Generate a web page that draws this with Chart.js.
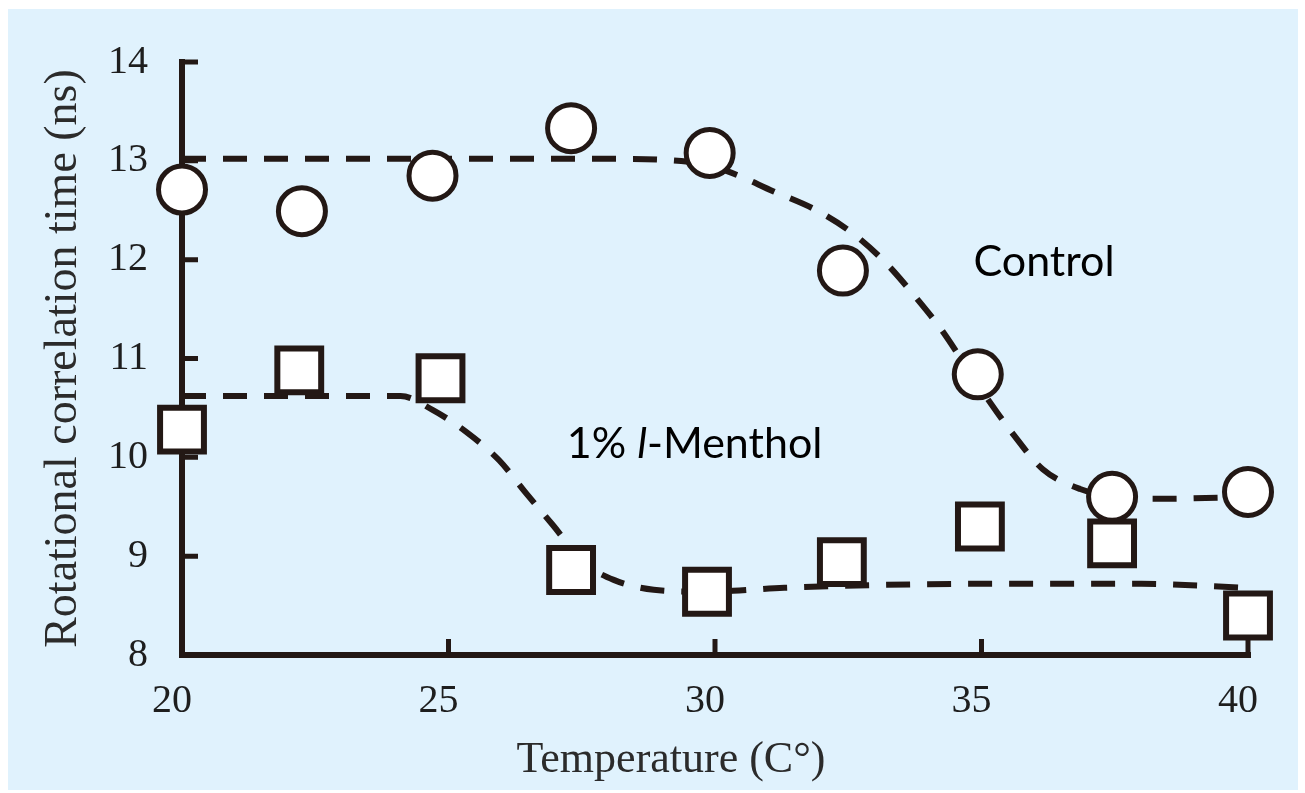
<!DOCTYPE html>
<html>
<head>
<meta charset="utf-8">
<script src="https://cdn.jsdelivr.net/npm/chart.js@4"></script>
<style>
  html, body { margin: 0; padding: 0; background: #ffffff; }
  #wrap { width: 1305px; height: 793px; }
</style>
</head>
<body>
<div id="wrap"><canvas id="chart" width="1305" height="793"></canvas></div>
<script>
// measured points
const controlTemp = [20, 22.25, 24.7, 27.3, 29.9, 32.4, 34.93, 37.45, 40];
const controlTime = [12.71, 12.49, 12.85, 13.33, 13.08, 11.89, 10.84, 9.6, 9.65];
const mentholTemp = [20, 22.2, 24.85, 27.3, 29.85, 32.38, 34.97, 37.45, 40];
const mentholTime = [10.28, 10.88, 10.8, 8.86, 8.64, 8.94, 9.3, 9.13, 8.4];

// dashed fitted curves
const controlFitTemp = [20, 28, 29.5, 30.2, 31.1, 31.9, 32.6, 33.2, 33.75, 34.25, 34.95, 35.6, 36.15, 36.85, 37.5, 38.3, 40];
const controlFitTime = [13.02, 13.02, 12.99, 12.9, 12.69, 12.5, 12.26, 11.97, 11.63, 11.29, 10.72, 10.23, 9.88, 9.68, 9.6, 9.58, 9.6];
const mentholFitTemp = [20, 24.1, 24.7, 25.35, 25.95, 26.45, 26.95, 27.55, 28.1, 28.85, 29.85, 31.3, 35, 38, 40];
const mentholFitTime = [10.62, 10.62, 10.48, 10.25, 9.97, 9.64, 9.32, 8.93, 8.76, 8.66, 8.64, 8.68, 8.72, 8.72, 8.68];

const yTicks = [8, 9, 10, 11, 12, 13, 14];
const xTicks = [20, 25, 30, 35, 40];

const ink = "#231815";

function pts(xs, ys) {
	return xs.map((x, i) => ({ x: x, y: ys[i] }));
}

const decor = {
	id: "decor",
	beforeDraw(chart) {
		const ctx = chart.ctx;
		ctx.save();
		ctx.fillStyle = "#ffffff";
		ctx.fillRect(0, 0, chart.width, chart.height);
		ctx.fillStyle = "#e0f2fd";
		ctx.fillRect(8, 9, 1290, 781);
		ctx.restore();
	},
	beforeDatasetsDraw(chart) {
		const ctx = chart.ctx;
		const a = chart.chartArea;
		const sx = chart.scales.x, sy = chart.scales.y;
		ctx.save();
		ctx.strokeStyle = ink;
		ctx.lineCap = "butt";
		ctx.lineWidth = 6;
		ctx.beginPath();
		ctx.moveTo(a.left, a.top - 3);
		ctx.lineTo(a.left, a.bottom + 3);
		ctx.moveTo(a.left - 3, a.bottom);
		ctx.lineTo(a.right + 3, a.bottom);
		ctx.stroke();
		ctx.lineWidth = 5;
		ctx.beginPath();
		yTicks.slice(1).forEach(v => {
			const y = sy.getPixelForValue(v);
			ctx.moveTo(a.left, y);
			ctx.lineTo(a.left + 16, y);
		});
		xTicks.slice(1).forEach(v => {
			const x = sx.getPixelForValue(v);
			ctx.moveTo(x, a.bottom);
			ctx.lineTo(x, a.bottom - 16);
		});
		ctx.stroke();
		ctx.restore();
	},
	afterDraw(chart) {
		const ctx = chart.ctx;
		const sx = chart.scales.x, sy = chart.scales.y;
		ctx.save();
		ctx.fillStyle = "#000000";
		ctx.textBaseline = "alphabetic";
		ctx.textAlign = "left";
		ctx.font = "43px Lato";
		ctx.fillText("Control", sx.getPixelForValue(34.85), sy.getPixelForValue(11.83));
		let x = sx.getPixelForValue(27.22);
		const y = sy.getPixelForValue(9.99);
		ctx.fillText("1% ", x, y);
		x += ctx.measureText("1% ").width;
		ctx.font = "italic 43px Lato";
		ctx.fillText("l", x, y);
		x += ctx.measureText("l").width;
		ctx.font = "43px Lato";
		ctx.fillText("-Menthol", x, y);

		// x axis title
		ctx.fillStyle = "#2b2b2b";
		ctx.textAlign = "center";
		ctx.font = "44px 'Liberation Serif'";
		ctx.fillText("Temperature (C\u00b0)", 671, 772);
		ctx.restore();
	}
};

const ctx = document.getElementById("chart").getContext("2d");
const chart = new Chart(ctx, {
	type: "scatter",
	data: {
		datasets: [
			{
				label: "Control",
				data: pts(controlTemp, controlTime),
				pointStyle: "circle",
				pointRadius: 23.5,
				pointHoverRadius: 23.5,
				pointBorderWidth: 5,
				pointBackgroundColor: "#ffffff",
				pointBorderColor: ink,
				showLine: false,
				clip: false,
			},
			{
				label: "1% l-Menthol",
				data: pts(mentholTemp, mentholTime),
				pointStyle: "rect",
				pointRadius: 31,
				pointHoverRadius: 31,
				pointBorderWidth: 6,
				pointBackgroundColor: "#ffffff",
				pointBorderColor: ink,
				showLine: false,
				clip: false,
			},
			{
				label: "Control fit",
				data: pts(controlFitTemp, controlFitTime),
				showLine: true,
				borderColor: ink,
				borderWidth: 6,
				borderDash: [24, 17],
				cubicInterpolationMode: "monotone",
				pointRadius: 0,
				clip: false,
			},
			{
				label: "Menthol fit",
				data: pts(mentholFitTemp, mentholFitTime),
				showLine: true,
				borderColor: ink,
				borderWidth: 6,
				borderDash: [24, 17],
				cubicInterpolationMode: "monotone",
				pointRadius: 0,
				clip: false,
			},
		],
	},
	options: {
		responsive: false,
		animation: false,
		events: [],
		layout: { padding: { left: 0, top: 62, right: 57, bottom: 0 } },
		plugins: {
			legend: { display: false },
			tooltip: { enabled: false },
		},
		scales: {
			x: {
				type: "linear",
				min: 20,
				max: 40,
				afterFit(scale) { scale.height = 138; },
				afterBuildTicks(scale) { scale.ticks = xTicks.map(v => ({ value: v })); },
				grid: { display: false, drawTicks: false },
				border: { display: false },
				ticks: {
					padding: 22,
					labelOffset: -10,
					color: "#1e1e1e",
					font: { family: "'Liberation Serif'", size: 40 },
				},
				title: { display: false },
			},
			y: {
				type: "linear",
				min: 8,
				max: 14,
				afterFit(scale) { scale.width = 182; },
				afterBuildTicks(scale) { scale.ticks = yTicks.map(v => ({ value: v })); },
				grid: { display: false, drawTicks: false },
				border: { display: false },
				ticks: {
					padding: 34,
					color: "#1e1e1e",
					font: { family: "'Liberation Serif'", size: 40 },
				},
				title: {
					display: true,
					text: "Rotational correlation time (ns)",
					color: "#2b2b2b",
					font: { family: "'Liberation Serif'", size: 46 },
					padding: { top: 36, bottom: 0 },
				},
			},
		},
	},
	plugins: [decor],
});
</script>
</body>
</html>
